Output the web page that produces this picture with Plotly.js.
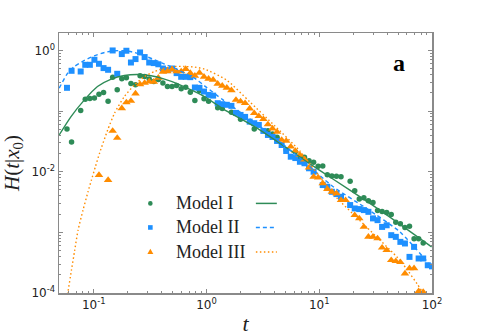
<!DOCTYPE html>
<html>
<head>
<meta charset="utf-8">
<script src="https://cdn.plot.ly/plotly-3.0.1.min.js"></script>
<style>
  html, body { margin: 0; padding: 0; background: #fff; }
  #plot { width: 480px; height: 336px; }
</style>
</head>
<body>
<div id="plot"></div>
<script>
// sampling times shared by the three simulated series
var tSim = [0.0579, 0.0636, 0.0698, 0.0766, 0.0841, 0.0924, 0.1014, 0.1113, 0.1222, 0.1341,
  0.1472, 0.1616, 0.1774, 0.1948, 0.2138, 0.2347, 0.2576, 0.2828, 0.3105, 0.3408,
  0.3741, 0.4107, 0.4508, 0.4949, 0.5433, 0.5964, 0.6546, 0.7186, 0.7889, 0.8660,
  0.9506, 1.0435, 1.1455, 1.2574, 1.3804, 1.5153, 1.6634, 1.8261, 2.0045, 2.2003,
  2.4155, 2.6516, 2.9107, 3.1952, 3.5075, 3.8504, 4.2267, 4.6399, 5.0933, 5.5912,
  6.1376, 6.7376, 7.3961, 8.1189, 8.9125, 9.7836, 10.740, 11.790, 12.942, 14.207,
  15.596, 17.120, 18.793, 20.630, 22.646, 24.860, 27.290, 29.957, 32.885, 36.099,
  39.628, 43.501, 47.753, 52.420, 57.544, 63.168, 69.343, 76.120, 83.560, 91.728, 100.0];

var simI = [0.0508, 0.0310, null, 0.102, 0.157, 0.161, 0.165, 0.190, 0.202, 0.146,
  0.363, 0.224, 0.340, 0.354, 0.285, 0.271, 0.382, 0.372, 0.337, 0.307,
  0.332, 0.292, 0.254, 0.254, 0.264, 0.233, 0.248, 0.205, 0.150, 0.218,
  0.160, 0.146, null, 0.114, 0.110, null, 0.0959, null, 0.0735, 0.0781,
  null, 0.0508, null, null, 0.0476, 0.0420, 0.0371, null, 0.0228, null,
  0.0214, 0.0177, 0.0173, 0.0152, 0.0143, 0.0123, 0.0124, 0.00891, 0.00849, 0.00843,
  0.00826, null, 0.00694, 0.00485, 0.00354, 0.00372, 0.00332, 0.00312, 0.00230, 0.00221,
  0.00213, 0.00198, 0.00147, 0.00139, 0.00120, 0.00126, 0.000781, 0.000781, 0.000670, null, null];

var simII = [0.242, 0.462, null, 0.450, 0.580, 0.580, 0.702, 0.603, 0.512, 0.480,
  1.00, 0.412, 0.872, 0.989, 0.633, 0.721, 0.927, 0.778, 0.633, 0.619,
  0.592, 0.504, 0.474, 0.504, 0.423, 0.368, 0.368, 0.363, 0.245, 0.242,
  0.210, 0.185, 0.180, 0.135, 0.130, 0.127, 0.122, 0.0934, 0.0865, 0.0802,
  0.0670, 0.0631, 0.0591, 0.0471, 0.0404, 0.0375, 0.0322, 0.0276, 0.0220, 0.0177,
  0.0168, 0.0146, 0.0138, 0.0114, 0.0100, null, 0.00603, 0.00565, 0.00467, 0.00428,
  0.00386, null, 0.00282, 0.00248, 0.00242, 0.00233, 0.00218, 0.00170, 0.00159, 0.00123,
  0.00131, 0.000899, 0.000843, 0.000697, 0.000656, 0.000394, 0.000576, 0.000371, 0.000371, 0.000287, 0.000275];

var simIII = [null, null, null, null, null, null, null, 0.00881, null, 0.00729,
  0.0471, 0.0361, 0.111, 0.139, 0.147, 0.195, 0.276, 0.292, 0.307, 0.304,
  0.354, 0.445, 0.453, 0.485, 0.450, 0.450, 0.493, 0.423, 0.382, 0.428,
  0.368, 0.340, 0.328, 0.282, 0.261, 0.242, 0.220, 0.153, 0.144, 0.135,
  0.110, 0.0923, 0.0824, 0.0735, 0.0603, 0.0514, 0.0453, 0.0334, 0.0322, 0.0259,
  0.0220, 0.0189, 0.0159, 0.0117, 0.00826, 0.00802, 0.00643, 0.00518, 0.00467, 0.00439,
  0.00340, 0.00340, null, 0.00192, 0.00170, 0.00123, 0.000843, 0.000843, 0.000793, 0.000558,
  0.000508, 0.000347, 0.000334, 0.000322, 0.000209, 0.000256, 0.000256, 0.000107, 0.000104, null, null];

// analytic curves
var fitT_I = [0.0494, 0.0629, 0.0827, 0.108, 0.143, 0.187, 0.246, 0.322, 0.424, 0.556,
  0.730, 0.960, 1.40, 2.78, 5.48, 10.1, 18.7, 34.5, 99.2];
var fitH_I = [0.0404, 0.0811, 0.153, 0.254, 0.337, 0.386, 0.401, 0.382, 0.337, 0.282,
  0.224, 0.174, 0.109, 0.0528, 0.0228, 0.0105, 0.00499, 0.00233, 0.000576];

var fitT_II = [0.0494, 0.0588, 0.0674, 0.0826, 0.101, 0.125, 0.153, 0.187, 0.230, 0.282,
  0.346, 0.424, 0.520, 0.638, 0.783, 0.960, 1.40, 2.42, 4.04, 6.73, 13.3, 26.3, 51.9, 99.2];
var fitH_II = [0.239, 0.423, 0.544, 0.684, 0.817, 0.927, 0.989, 0.989, 0.927, 0.817,
  0.702, 0.596, 0.512, 0.423, 0.350, 0.261, 0.153, 0.0743, 0.0361, 0.0168, 0.00565, 0.00248, 0.00102, 0.000271];

var fitT_III = [0.0585, 0.0592, 0.0634, 0.0678, 0.0726, 0.0804, 0.0890, 0.0954, 0.1035, 0.113,
  0.133, 0.153, 0.187, 0.230, 0.282, 0.346, 0.424, 0.520, 0.638, 0.783, 0.960,
  1.50, 2.42, 4.04, 6.73, 13.3, 26.3, 51.9, 81.3, 86.0];
var fitH_III = [0.000095, 0.000107, 0.000237, 0.000507, 0.00109, 0.00233, 0.00467, 0.00729, 0.0121, 0.0206,
  0.0489, 0.0923, 0.174, 0.271, 0.372, 0.450, 0.512, 0.544, 0.544, 0.532, 0.493,
  0.328, 0.142, 0.0569, 0.0220, 0.00428, 0.00122, 0.000347, 0.000107, 0.000080];

var names = ["Model I", "Model II", "Model III"];
var colors = ["#2e8b57", "#1e90ff", "#ff8c00"];
var symbols = ["circle", "square", "triangle-up"];
var sizes = [5.5, 6, 7.5];
var dashes = ["solid", "4px,3px", "1.5px,2.5px"];

var simY = [simI, simII, simIII];
var fitX = [fitT_I, fitT_II, fitT_III];
var fitY = [fitH_I, fitH_II, fitH_III];

var traces = [];
simY.forEach(function (ys, i) {
  traces.push({
    type: "scatter", mode: "markers", name: names[i], x: tSim, y: ys,
    marker: { color: colors[i], symbol: symbols[i], size: sizes[i], line: { width: 0 } },
    hoverinfo: "skip", showlegend: false
  });
});
fitY.forEach(function (ys, i) {
  traces.push({
    type: "scatter", mode: "lines", name: names[i] + " fit", x: fitX[i], y: ys,
    line: { color: colors[i], width: 1.4, dash: dashes[i], shape: "spline", smoothing: 0.6 },
    hoverinfo: "skip", showlegend: false
  });
});

function minorVals(lo, hi) {
  var out = [];
  for (var e = lo; e < hi; e++)
    for (var m = 2; m <= 9; m++) out.push(m * Math.pow(10, e));
  return out;
}

var AX = "#8a8a8a", FG = "#222";
var SERIF = "Liberation Serif, Times New Roman, serif";
var tickFont = { family: "DejaVu Sans, sans-serif", size: 12, color: FG };

// hand-made legend: marker column, labels, line column
var legX = 0.2449, txtX = 0.3075, lineX0 = 0.5278, lineX1 = 0.584;
var legY = [0.3446, 0.2521, 0.1581];
var shapes = [
  { type: "circle", xref: "paper", yref: "paper", xsizemode: "pixel", ysizemode: "pixel",
    xanchor: legX, yanchor: legY[0], x0: -2.3, x1: 2.3, y0: -2.3, y1: 2.3,
    fillcolor: colors[0], line: { width: 0 } },
  { type: "rect", xref: "paper", yref: "paper", xsizemode: "pixel", ysizemode: "pixel",
    xanchor: legX, yanchor: legY[1], x0: -2.3, x1: 2.3, y0: -2.3, y1: 2.3,
    fillcolor: colors[1], line: { width: 0 } },
  { type: "path", xref: "paper", yref: "paper", xsizemode: "pixel", ysizemode: "pixel",
    xanchor: legX, yanchor: legY[2], path: "M-3,-2.2L3,-2.2L0,3.2Z",
    fillcolor: colors[2], line: { width: 0 } }
];
legY.forEach(function (y, i) {
  shapes.push({ type: "line", xref: "paper", yref: "paper", x0: lineX0, x1: lineX1, y0: y, y1: y,
    line: { color: colors[i], width: 1.5, dash: dashes[i] } });
});
var annotations = names.map(function (n, i) {
  return { xref: "paper", yref: "paper", x: txtX, y: legY[i], xanchor: "left", yanchor: "middle",
    text: n, showarrow: false, font: { family: SERIF, size: 18, color: FG } };
});
annotations.push({ xref: "paper", yref: "paper", x: 0.911, y: 0.884, xanchor: "center", yanchor: "middle",
  text: "<b>a</b>", showarrow: false, font: { family: SERIF, size: 24, color: "#000" } });

var layout = {
  width: 480, height: 336,
  margin: { l: 59, r: 48, t: 33, b: 43 },
  paper_bgcolor: "#fff", plot_bgcolor: "#fff",
  showlegend: false,
  xaxis: {
    type: "log", range: [-1.308, 2.0], autorange: false,
    tickmode: "array", tickvals: [0.1, 1, 10, 100],
    ticktext: ["10<sup>-1</sup>", "10<sup>0</sup>", "10<sup>1</sup>", "10<sup>2</sup>"],
    ticks: "inside", ticklen: 4, tickwidth: 1, tickcolor: AX,
    minor: { tickmode: "array", tickvals: minorVals(-2, 2), ticks: "inside", ticklen: 2, tickcolor: AX, showgrid: false },
    showline: true, linecolor: AX, linewidth: 1.5, mirror: "allticks",
    showgrid: false, zeroline: false, tickfont: tickFont,
    title: { text: "<i>t</i>", font: { family: SERIF, size: 22, color: FG }, standoff: 4 }
  },
  yaxis: {
    type: "log", range: [-4, 0.288], autorange: false,
    tickmode: "array", tickvals: [1e-4, 1e-3, 1e-2, 1e-1, 1],
    ticktext: ["10<sup>-4</sup>", "", "10<sup>-2</sup>", "", "10<sup>0</sup>"],
    ticks: "inside", ticklen: 4, tickwidth: 1, tickcolor: AX,
    minor: { tickmode: "array", tickvals: minorVals(-4, 1), ticks: "inside", ticklen: 2, tickcolor: AX, showgrid: false },
    showline: true, linecolor: AX, linewidth: 1.5, mirror: "allticks",
    showgrid: false, zeroline: false, tickfont: tickFont,
    title: { text: "<i>H</i>(<i>t</i>|<i>x</i><sub>0</sub>)", font: { family: SERIF, size: 21, color: FG }, standoff: 6 }
  },
  shapes: shapes,
  annotations: annotations
};

Plotly.newPlot("plot", traces, layout, { displayModeBar: false, staticPlot: true });
</script>
</body>
</html>
